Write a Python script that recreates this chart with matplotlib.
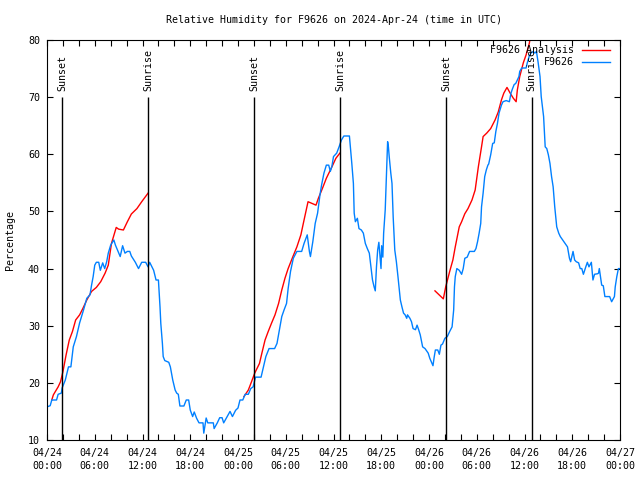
import matplotlib
matplotlib.use("Agg")
import matplotlib.pyplot as plt
from matplotlib.lines import Line2D
import numpy as np

# hours since 2024-04-24 00:00 UTC
obs_t = [0.0, 0.4, 0.6, 1.2, 1.4, 1.8, 1.9, 2.3, 2.7, 3.0, 3.3, 3.7, 4.1, 4.6, 5.0, 5.4, 5.6, 5.8,
         6.0, 6.2, 6.5, 6.7, 7.0, 7.25, 7.5, 7.7, 8.0, 8.4, 8.6, 9.2, 9.5, 9.8, 10.1, 10.4, 10.6,
         11.1, 11.5, 11.9, 12.4, 12.7, 12.9, 13.4, 13.7, 14.0, 14.2, 14.3, 14.5, 14.6, 14.8, 15.3,
         15.5, 15.8, 16.1, 16.3, 16.5, 16.7, 17.2, 17.5, 17.8, 18.0, 18.3, 18.5, 18.8, 19.1, 19.6,
         19.7, 20.0, 20.2, 20.9, 21.0, 21.4, 21.7, 22.0, 22.2, 22.6, 23.0, 23.3, 23.7, 24.0, 24.25,
         24.6, 24.9, 25.3, 25.6, 25.9, 26.2, 26.9, 27.2, 27.5, 27.9, 28.6, 28.9, 29.2, 29.5, 29.8,
         30.1, 30.3, 30.6, 30.95, 31.4, 32.0, 32.3, 32.7, 32.97, 33.1, 33.4, 33.7, 34.0, 34.3, 34.5,
         34.8, 35.1, 35.4, 35.6, 35.8, 36.0, 36.4, 36.7, 37.0, 37.3, 38.0, 38.1, 38.3, 38.5, 38.6,
         38.75, 39.0, 39.2, 39.5, 39.75, 40.0, 40.25, 40.5, 40.7, 40.9, 41.1, 41.25, 41.4, 41.55,
         41.7, 41.85, 41.97, 42.05, 42.2, 42.3, 42.5, 42.65, 42.8, 42.9, 43.0, 43.2, 43.35, 43.5,
         43.7, 43.9, 44.1, 44.4, 44.6, 44.8, 45.0, 45.2, 45.3, 45.6, 45.8, 46.0, 46.3, 46.5, 46.7,
         46.9, 47.2, 47.5, 47.9, 48.1, 48.5, 48.65, 48.8, 49.1, 49.3, 49.5, 49.7, 50.0, 50.3, 50.6,
         50.9, 51.1, 51.2, 51.3, 51.5, 51.8, 52.1, 52.3, 52.5, 52.8, 53.1, 53.7, 53.9, 54.1, 54.3,
         54.5, 54.6, 54.8, 55.0, 55.2, 55.4, 55.5, 55.75, 56.0, 56.2, 56.4, 56.6, 56.8, 57.1, 57.3,
         57.7, 58.1, 58.3, 58.5, 58.7, 58.9, 59.1, 59.3, 59.4, 59.65, 60.2, 60.35, 60.6, 60.8, 61.1,
         61.3, 61.5, 61.7, 61.95, 62.1, 62.4, 62.6, 62.8, 63.0, 63.2, 63.4, 63.6, 63.8, 64.05, 64.3,
         64.5, 64.8, 65.1, 65.4, 65.65, 65.8, 66.1, 66.3, 66.5, 66.8, 67.0, 67.2, 67.4, 67.7, 67.9,
         68.1, 68.4, 68.6, 68.8, 69.2, 69.3, 69.4, 69.6, 69.7, 69.9, 70.1, 70.7, 70.95, 71.3, 71.4,
         71.6, 71.8, 72.0]
obs_rh = [15.8, 16.0, 17.0, 17.0, 18.0, 18.2, 19.1, 20.5, 22.8, 22.8, 26.3, 28.1, 30.5, 32.8, 34.8,
          35.4, 37.1, 38.6, 40.6, 41.1, 41.1, 39.7, 41.0, 40.0, 41.2, 42.7, 44.1, 45.0, 44.1, 42.1,
          44.0, 42.7, 43.0, 43.0, 42.2, 41.1, 40.0, 41.1, 41.1, 40.3, 41.1, 39.7, 38.0, 38.0, 33.3,
          30.4, 26.9, 24.6, 23.9, 23.6, 22.8, 20.5, 18.75, 18.2, 18.0, 15.95, 15.95, 17.0, 17.0,
          15.25, 14.1, 14.9, 13.8, 13.0, 13.0, 11.2, 13.85, 13.0, 13.0, 12.0, 13.0, 13.9, 13.9, 13.0,
          14.0, 15.0, 14.1, 15.2, 15.6, 17.0, 17.0, 18.0, 18.0, 19.0, 19.3, 21.0, 21.0, 22.8, 24.6,
          26.0, 26.0, 26.9, 29.25, 31.6, 32.8, 33.9, 36.5, 39.5, 41.8, 43.0, 43.0, 44.4, 45.9, 43.0,
          42.1, 44.7, 47.9, 49.7, 52.9, 54.6, 56.7, 58.1, 58.1, 57.0, 57.9, 59.6, 60.2, 61.3, 62.5,
          63.2, 63.2, 61.6, 58.4, 54.9, 49.7, 48.2, 48.8, 47.0, 46.75, 46.2, 44.4, 43.5, 42.7, 40.3,
          38.0, 36.8, 36.1, 40.3, 43.25, 44.6, 42.0, 40.0, 44.0, 42.0, 46.2, 50.3, 56.1, 62.2, 61.3,
          59.6, 56.7, 54.9, 49.0, 43.25, 41.2, 38.6, 34.5, 33.3, 32.2, 31.9, 31.3, 31.9, 31.3, 30.7,
          29.5, 29.3, 30.1, 29.3, 28.4, 26.3, 26.0, 25.2, 24.3, 23.0, 24.5, 25.75, 25.75, 25.0, 26.6,
          26.8, 27.8, 28.1, 29.0, 29.8, 32.75, 36.8, 38.6, 40.0, 39.7, 39.0, 40.0, 41.8, 42.0, 43.0,
          43.0, 43.5, 44.7, 46.2, 47.9, 50.8, 53.2, 56.1, 57.25, 58.1, 58.3, 59.9, 61.9, 62.0, 64.0,
          65.4, 67.2, 68.6, 69.2, 69.4, 69.2, 70.7, 71.5, 72.2, 72.4, 73.0, 73.6, 74.5, 75.1, 75.1,
          76.0, 77.2, 77.7, 78.0, 77.7, 78.0, 76.2, 73.6, 70.1, 66.6, 61.3, 61.0, 59.9, 58.4, 56.1,
          54.3, 50.8, 47.3, 46.2, 45.6, 45.0, 44.4, 43.8, 41.8, 41.2, 43.0, 41.5, 41.2, 41.0, 40.0,
          40.0, 39.0, 40.3, 41.1, 40.3, 41.1, 38.0, 39.0, 39.1, 39.2, 40.0, 38.0, 37.1, 37.0, 35.1,
          35.1, 34.2, 35.1, 36.8, 38.6, 40.0, 40.0]

# analysis, three separate runs (NaN = gap)
ana_t = [0.6, 0.8, 1.4, 1.7, 2.0, 2.4, 2.8, 3.2, 3.6, 4.1, 4.5, 5.0, 5.6, 6.2, 6.75, 7.3, 7.7, 8.1,
         8.7, 9.0, 9.6, 10.1, 10.6, 11.3, 11.9, 12.7, np.nan,
         24.75, 25.3, 25.7, 26.1, 26.7, 27.0, 27.4, 27.8, 28.2, 28.65, 29.1, 29.5, 29.9, 30.3, 30.9,
         31.4, 31.9, 32.3, 32.8, 33.3, 33.8, 34.1, 34.6, 35.1, 35.8, 36.3, 36.8, np.nan,
         48.75, 49.8, 50.1, 50.6, 51.0, 51.3, 51.6, 51.8, 52.1, 52.5, 52.9, 53.4, 53.8, 54.2, 54.6,
         54.8, 55.25, 55.75, 56.3, 56.7, 57.1, 57.4, 57.8, 58.2, 58.6, 58.95, 59.1, 59.4, 59.85,
         60.2, 60.6, 60.9]
ana_rh = [17.0, 17.9, 19.3, 20.2, 21.95, 24.9, 27.5, 29.0, 31.0, 31.9, 33.0, 34.5, 36.0, 36.7, 37.7,
          39.2, 40.6, 44.4, 47.2, 46.9, 46.75, 48.2, 49.55, 50.5, 51.7, 53.2, np.nan,
          17.6, 18.75, 20.2, 21.7, 23.4, 25.2, 27.5, 29.0, 30.4, 31.9, 33.9, 36.25, 38.3, 40.0, 42.1,
          43.8, 45.9, 48.5, 51.7, 51.4, 51.1, 52.3, 54.0, 55.8, 57.8, 59.3, 60.2, np.nan,
          36.1, 34.7, 36.8, 39.5, 41.5, 43.8, 45.9, 47.3, 48.2, 49.6, 50.5, 52.0, 53.75, 57.8, 61.3,
          63.1, 63.7, 64.5, 66.0, 67.4, 69.5, 70.7, 71.7, 70.7, 69.8, 69.2, 71.25, 73.6, 76.0, 77.4,
          79.4, 81.75]

sun_t = [1.93, 12.73, 26.05, 36.86, 50.17, 60.9]
sun_lbl = ["Sunset", "Sunrise", "Sunset", "Sunrise", "Sunset", "Sunrise"]

tick_hours = [0, 6, 12, 18, 24, 30, 36, 42, 48, 54, 60, 66, 72]
tick_lbls = ["04/24\n00:00", "04/24\n06:00", "04/24\n12:00", "04/24\n18:00",
             "04/25\n00:00", "04/25\n06:00", "04/25\n12:00", "04/25\n18:00",
             "04/26\n00:00", "04/26\n06:00", "04/26\n12:00", "04/26\n18:00",
             "04/27\n00:00"]

plt.rcParams['font.family'] = 'DejaVu Sans Mono'
plt.rcParams['font.size'] = 7.2

fig = plt.figure(figsize=(6.4, 4.8), dpi=100)
ax = fig.add_axes([47/640, 40/480, 573/640, 400/480])

ax.plot(ana_t, ana_rh, color='#ff0000', lw=1.0)
ax.plot(obs_t, obs_rh, color='#0080ff', lw=1.0)

for t, s in zip(sun_t, sun_lbl):
    ax.vlines(t, 10, 70, color='black', lw=1.0)
    ax.text(t, 71, s, rotation=90, ha='center', va='bottom')

ax.set_xlim(0, 72)
ax.set_ylim(10, 80)
ax.set_xticks(tick_hours)
ax.set_xticklabels(tick_lbls, linespacing=1.45)
ax.set_xticks(np.arange(0, 73, 2), minor=True)
ax.set_yticks(np.arange(10, 81, 10))
ax.tick_params(which='both', direction='in', top=True, right=True, length=4, width=0.8)
ax.tick_params(axis='x', pad=5.5)
ax.tick_params(axis='y', pad=5)
for sp in ax.spines.values():
    sp.set_linewidth(0.8)

# legend, gnuplot style: right-aligned text then sample
ax.text(0.92, 0.975, "F9626 Analysis", transform=ax.transAxes, ha='right', va='center')
ax.text(0.92, 0.944, "F9626", transform=ax.transAxes, ha='right', va='center')
ax.add_line(Line2D([0.934, 0.982], [0.975, 0.975], transform=ax.transAxes, color='#ff0000', lw=1.0))
ax.add_line(Line2D([0.934, 0.982], [0.944, 0.944], transform=ax.transAxes, color='#0080ff', lw=1.0))

fig.text(333.5/640, 1 - 20/480, "Relative Humidity for F9626 on 2024-Apr-24 (time in UTC)",
         ha='center', va='center')
fig.text(10/640, 0.5, "Percentage", rotation=90, ha='center', va='center')

fig.savefig("out.png", dpi=100)
